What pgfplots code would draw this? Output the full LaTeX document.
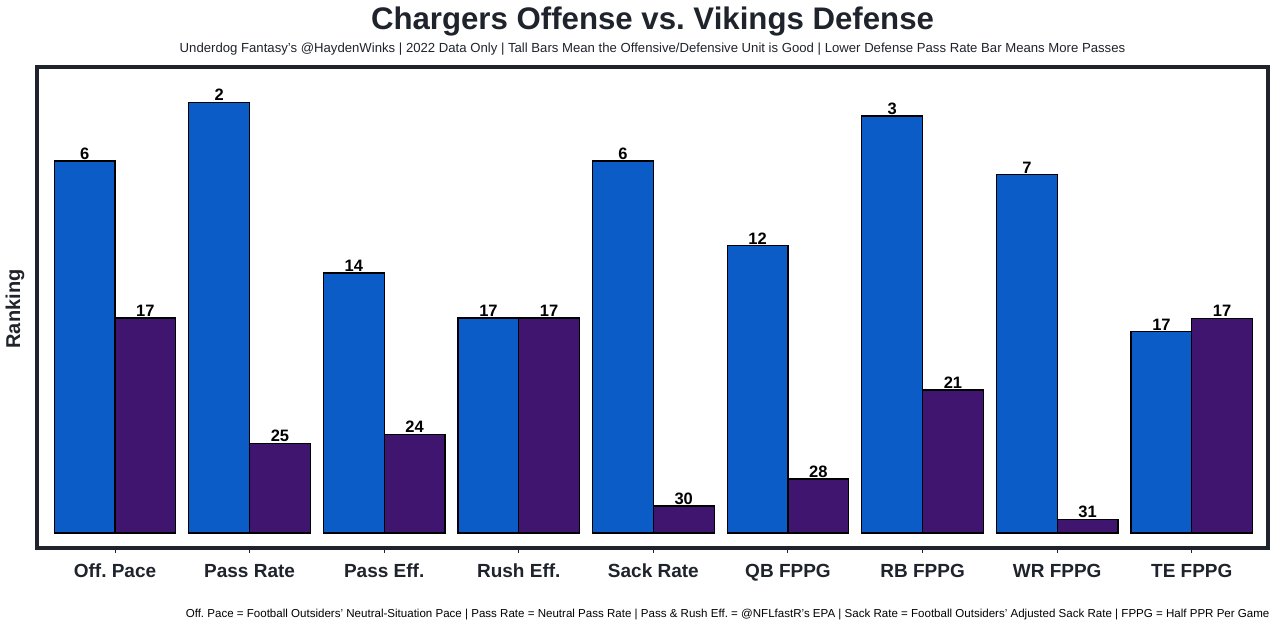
\documentclass[border=0pt]{standalone}
\usepackage{pgfplots}
\pgfplotsset{compat=1.18}
\usepackage{fontspec}
\setmainfont{Liberation Sans}
\frenchspacing
\definecolor{offblue}{HTML}{0B5CC6}
\definecolor{defpurple}{HTML}{3F1570}
\definecolor{frame}{HTML}{1F232B}

\begin{document}
\begin{tikzpicture}[x=1pt,y=1pt]
\useasboundingbox (0,0) rectangle (1280,629);
\begin{axis}[
  at={(37pt,81pt)}, anchor=south west,
  width=1231pt, height=481pt, scale only axis,
  xmin=-0.5795, xmax=8.566, ymin=-1.045, ymax=32.47,
  axis line style={frame, line width=4pt},
  ytick=\empty,
  xtick={0,...,8}, xtick pos=bottom,
  xticklabels={Off. Pace, Pass Rate, Pass Eff., Rush Eff., Sack Rate, QB FPPG, RB FPPG, WR FPPG, TE FPPG},
  tick align=outside, major tick length=5pt,
  tick style={frame, line width=1pt},
  x tick label style={font=\fontsize{19}{22}\selectfont\bfseries, text=frame,
    anchor=north, text height=14pt, text depth=4pt, yshift=-7pt},
  ybar, bar width=0.451,
  point meta=explicit symbolic,
  nodes near coords,
  nodes near coords style={font=\fontsize{16.5}{18}\selectfont\bfseries, text=black, inner sep=1pt, anchor=south},
  clip=false,
]
% offense (blue)
\addplot[fill=offblue, draw=black, line width=1.2pt, bar shift=-0.2255] coordinates {
(0,25.92) [6]
(1,29.99) [2]
(2,18.12) [14]
(3,14.98) [17]
(4,25.92) [6]
(5,20.02) [12]
(6,29.06) [3]
(7,24.97) [7]
(8,14.03) [17]
};
% defense (purple)
\addplot[fill=defpurple, draw=black, line width=1.2pt, bar shift=0.2255] coordinates {
(0,14.98) [17]
(1,6.25) [25]
(2,6.88) [24]
(3,14.98) [17]
(4,1.88) [30]
(5,3.76) [28]
(6,9.97) [21]
(7,0.93) [31]
(8,14.96) [17]
};
\end{axis}
\node[font=\fontsize{31.2}{34}\selectfont\bfseries, text=frame] at (652.5,607) {Chargers Offense vs. Vikings Defense};
\node[font=\fontsize{13.15}{15}\selectfont, text=frame] at (652.5,580) {Underdog Fantasy's @HaydenWinks | 2022 Data Only | Tall Bars Mean the Offensive/Defensive Unit is Good | Lower Defense Pass Rate Bar Means More Passes};
\node[font=\fontsize{11.55}{13}\selectfont, text=black, anchor=east] at (1273,14) {Off. Pace = Football Outsiders' Neutral-Situation Pace | Pass Rate = Neutral Pass Rate | Pass \& Rush Eff. = @NFLfastR's EPA | Sack Rate = Football Outsiders' Adjusted Sack Rate | FPPG = Half PPR Per Game};
\node[font=\fontsize{20}{22}\selectfont\bfseries, text=frame, rotate=90] at (15,320) {Ranking};
\end{tikzpicture}
\end{document}
